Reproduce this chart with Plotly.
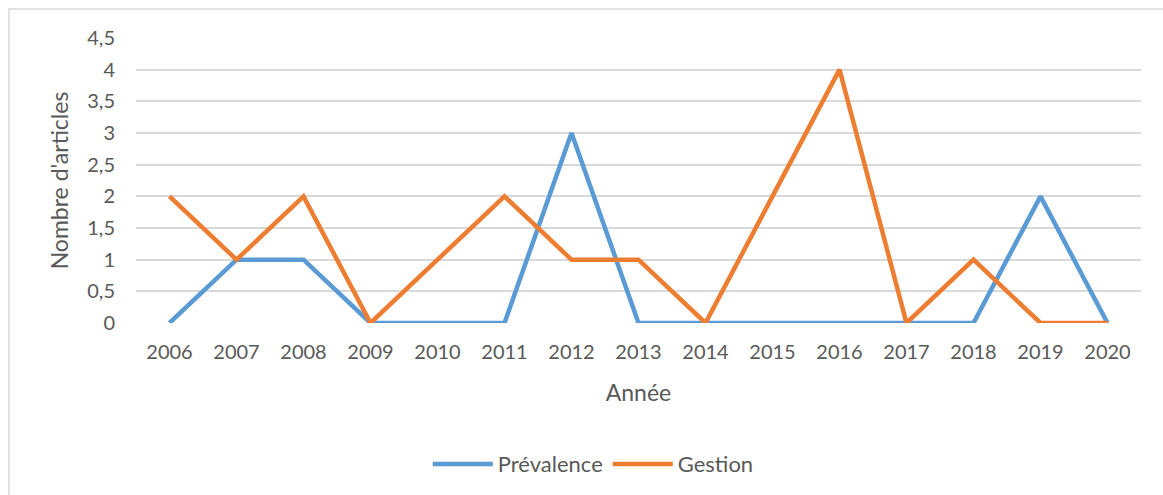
import plotly.graph_objects as go

annees = ["2006", "2007", "2008", "2009", "2010", "2011", "2012", "2013",
          "2014", "2015", "2016", "2017", "2018", "2019", "2020"]
prevalence = [0, 1, 1, 0, 0, 0, 3, 0, 0, 0, 0, 0, 0, 2, 0]
gestion = [2, 1, 2, 0, 1, 2, 1, 1, 0, 2, 4, 0, 1, 0, 0]
y_ticks = [0, 0.5, 1, 1.5, 2, 2.5, 3, 3.5, 4, 4.5]
y_labels = ["0", "0,5", "1", "1,5", "2", "2,5", "3", "3,5", "4", "4,5"]

font_color = "#595959"
fnt = "Lato, Open Sans, sans-serif"
fs = 20
fs_title = 23
fs_legend = 22

fig = go.Figure()
fig.add_trace(go.Scatter(x=annees, y=prevalence, mode="lines", name="Prévalence",
                         line=dict(color="#5B9BD5", width=4.5)))
fig.add_trace(go.Scatter(x=annees, y=gestion, mode="lines", name="Gestion",
                         line=dict(color="#ED7D31", width=4.5)))

fig.update_layout(
    width=1163, height=495,
    margin=dict(l=136, r=22, t=38, b=172, autoexpand=False),
    paper_bgcolor="white", plot_bgcolor="white",
    font=dict(family=fnt, size=fs, color=font_color),
    showlegend=True,
    legend=dict(orientation="h", x=0.455, xanchor="center", y=-0.495, yanchor="middle",
                font=dict(size=fs_legend, color=font_color), traceorder="normal",
                itemwidth=60),
    xaxis=dict(type="category", range=[-0.5, 14.5], showgrid=False, zeroline=False,
               showline=False, ticks="", ticklabelstandoff=15,
               tickfont=dict(size=fs, color=font_color),
               title=dict(text="Année", font=dict(size=fs_title, color=font_color), standoff=22)),
    yaxis=dict(range=[0, 4.5], tickvals=y_ticks, ticktext=y_labels,
               showgrid=True, gridcolor="#D9D9D9", gridwidth=1.5, zeroline=False,
               showline=False, ticks="", ticklabelstandoff=20,
               tickfont=dict(size=fs, color=font_color),
               title=dict(text="Nombre d'articles", font=dict(size=fs_title, color=font_color), standoff=12)),
    shapes=[dict(type="rect", xref="paper", yref="paper",
                 x0=-0.1264, x1=1.05, y0=-0.7, y1=1.1018,
                 line=dict(color="#D9D9D9", width=1.5), layer="below")],
)

fig.write_html("out.html", config={"displayModeBar": False})

with open("out.html", encoding="utf-8") as f:
    html = f.read()
html = html.replace("<body>", "<body style=\"margin:0;padding:0;overflow:hidden\">", 1)
with open("out.html", "w", encoding="utf-8") as f:
    f.write(html)
